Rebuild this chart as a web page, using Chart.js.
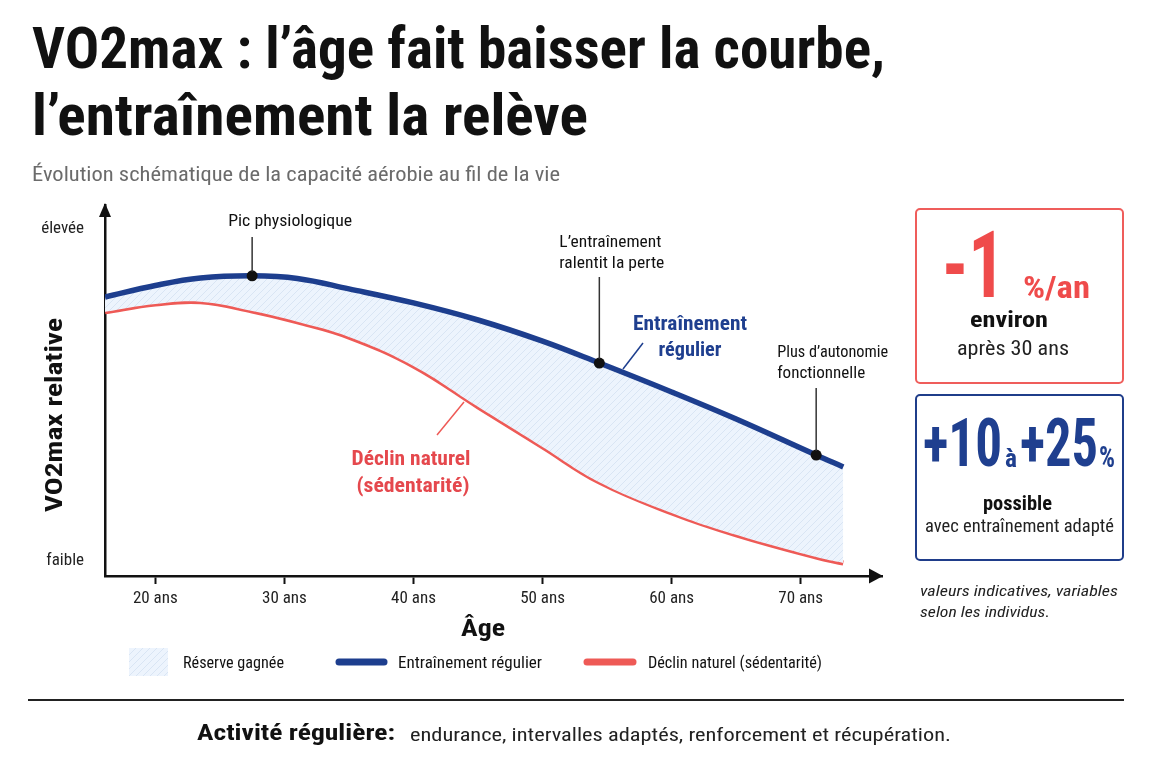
<!DOCTYPE html>
<html><head><meta charset="utf-8">
<script src="https://cdn.jsdelivr.net/npm/chart.js@4.4.1/dist/chart.umd.min.js"></script>
<style>
html,body{margin:0;padding:0;background:#fff;}
#wrap{position:relative;width:1152px;height:768px;overflow:hidden;background:#fff;}
#c{position:absolute;left:0;top:0;}
.t{position:absolute;white-space:nowrap;line-height:1;transform-origin:left top;font-family:'Liberation Sans Narrow','Roboto Condensed','DejaVu Sans Condensed',Roboto,sans-serif;}
.box{position:absolute;box-sizing:border-box;border-radius:5px;}
</style></head><body>
<div id="wrap"><canvas id="c" width="1152" height="768"></canvas>
<div class="box" style="left:915px;top:208px;width:209px;height:176px;border:2px solid #ef5d5b"></div>
<div class="box" style="left:915px;top:394px;width:209px;height:167px;border:2px solid #1f3d8a"></div>
<div style="position:absolute;left:28px;top:699px;width:1096px;height:2px;background:#222"></div>
</div>
<script>
const FONT = "'Liberation Sans Narrow','Roboto Condensed','DejaVu Sans Condensed',Roboto,sans-serif";

// ---- data ----
const ages = [16.1, 20, 23.5, 27.5, 31, 35, 40, 45, 50, 54.4, 60, 65, 71.2, 73.3];
const trainedValues = [75.2, 78.3, 80.3, 80.9, 80.2, 77.4, 73.6, 69.0, 63.3, 57.4, 49.6, 42.3, 32.6, 29.4];
const sedentaryValues = [71.2, 73.3, 73.9, 71.4, 68.5, 64.4, 56.6, 45.6, 34.8, 25.3, 17.0, 11.1, 5.1, 3.5];
const xTickAges = [20, 30, 40, 50, 60, 70];
const yTickValues = [4, 93.5];
const yTickLabels = ['faible', 'élevée'];
const seriesNames = ['Entraînement régulier', 'Déclin naturel (sédentarité)'];
const reserveName = 'Réserve gagnée';
const dotAges = [27.5, 54.4, 71.2];
const dotNotes = [['Pic physiologique'], ['L’entraînement', 'ralentit la perte'], ['Plus d’autonomie', 'fonctionnelle']];
const xTitle = 'Âge';
const yTitle = 'VO2max relative';

const NAVY = '#1d3e8e', RED = '#ee5a56', NAVY_T = '#1f3f8f', RED_T = '#e5484d';
const wrap = document.getElementById('wrap');

function T(text, o) {
  const el = document.createElement('div');
  el.className = 't';
  el.textContent = text;
  el.style.fontSize = o.size + 'px';
  el.style.fontWeight = o.bold ? '700' : '400';
  el.style.fontStyle = o.italic ? 'italic' : 'normal';
  el.style.color = o.color || '#111';
  wrap.appendChild(el);
  const w = el.getBoundingClientRect().width;
  const s = o.w ? o.w / w : 1;
  const W = w * s;
  const left = o.align === 'center' ? o.x - W / 2 : (o.align === 'right' ? o.x - W : o.x);
  el.style.left = left + 'px';
  el.style.top = (o.y - 0.847 * o.size) + 'px';
  el.style.transform = 'scaleX(' + s + ')';
}

// titles
T('VO2max : l’âge fait baisser la courbe,', {x: 32, y: 68, size: 58, bold: true, w: 853});
T('l’entraînement la relève', {x: 32, y: 135, size: 58, bold: true, w: 556});
T('Évolution schématique de la capacité aérobie au fil de la vie', {x: 32, y: 182, size: 21, color: '#6b6b6b', w: 528});
// red box
T('-1', {x: 942, y: 298, size: 92, bold: true, color: '#ef4b4b', w: 63});
T('%/an', {x: 1023, y: 298, size: 32, bold: true, color: '#ef4b4b', w: 67});
T('environ', {x: 1009, y: 328, size: 22, bold: true, align: 'center', w: 78});
T('après 30 ans', {x: 1013, y: 355, size: 20, color: '#222', align: 'center', w: 112});
// blue box
T('+10', {x: 923, y: 467, size: 66, bold: true, color: NAVY_T, w: 79});
T('à', {x: 1005, y: 467, size: 25, bold: true, color: NAVY_T, w: 12});
T('+25', {x: 1020, y: 467, size: 66, bold: true, color: NAVY_T, w: 78});
T('%', {x: 1099, y: 467, size: 30, bold: true, color: NAVY_T, w: 16});
T('possible', {x: 1017, y: 511, size: 21, bold: true, align: 'center', w: 69});
T('avec entraînement adapté', {x: 1019, y: 532, size: 19, color: '#222', align: 'center', w: 189});
T('valeurs indicatives, variables', {x: 920, y: 597, size: 15, italic: true, color: '#222', w: 198});
T('selon les individus.', {x: 920, y: 618, size: 15, italic: true, color: '#222', w: 130});
// footer
T('Activité régulière:', {x: 197, y: 741, size: 22, bold: true, w: 198});
T('endurance,  intervalles adaptés,  renforcement et récupération.', {x: 410, y: 741, size: 19, color: '#222', w: 541});

// hatch pattern
function makePattern() {
  const pc = document.createElement('canvas');
  pc.width = 7; pc.height = 7;
  const g = pc.getContext('2d');
  g.fillStyle = '#edf4fd'; g.fillRect(0, 0, 7, 7);
  g.strokeStyle = '#d9e5f4'; g.lineWidth = 1;
  g.beginPath();
  g.moveTo(-1, 8); g.lineTo(8, -1);
  g.moveTo(-1, 1); g.lineTo(1, -1);
  g.moveTo(6, 8); g.lineTo(8, 6);
  g.stroke();
  return g.createPattern(pc, 'repeat');
}
const hatch = makePattern();

function fitText(ctx, text, x, y, font, color, w, align) {
  ctx.save();
  ctx.font = font;
  ctx.fillStyle = color;
  ctx.textBaseline = 'alphabetic';
  ctx.textAlign = 'left';
  const m = ctx.measureText(text).width;
  const s = w ? w / m : 1;
  const W = m * s;
  const left = align === 'center' ? x - W / 2 : (align === 'right' ? x - W : x);
  ctx.translate(left, y);
  ctx.scale(s, 1);
  ctx.fillText(text, 0, 0);
  ctx.restore();
}
function line(ctx, x1, y1, x2, y2, color, w, cap) {
  ctx.save();
  ctx.strokeStyle = color; ctx.lineWidth = w; ctx.lineCap = cap || 'butt';
  ctx.beginPath(); ctx.moveTo(x1, y1); ctx.lineTo(x2, y2); ctx.stroke();
  ctx.restore();
}

const decor = {
  id: 'decor',
  afterDraw(chart) {
    const ctx = chart.ctx;
    const a = chart.chartArea;
    // arrowheads
    ctx.save();
    ctx.fillStyle = '#111';
    ctx.beginPath();
    ctx.moveTo(a.left, a.top - 2); ctx.lineTo(a.left - 6, a.top + 12); ctx.lineTo(a.left + 6, a.top + 12); ctx.closePath(); ctx.fill();
    ctx.beginPath();
    ctx.moveTo(a.right + 1, a.bottom); ctx.lineTo(a.right - 13, a.bottom - 7.5); ctx.lineTo(a.right - 13, a.bottom + 7.5); ctx.closePath(); ctx.fill();
    ctx.restore();

    // annotations on the dots
    const meta = chart.getDatasetMeta(0);
    const f16 = '400 17px ' + FONT;
    const P = dotAges.map(d => meta.data[ages.indexOf(d)]);
    line(ctx, P[0].x, 237, P[0].x, P[0].y - 4, '#333', 1.5);
    fitText(ctx, dotNotes[0][0], P[0].x + 38, 226, f16, '#111', 124, 'center');
    line(ctx, P[1].x, 277, P[1].x, P[1].y - 4, '#333', 1.5);
    fitText(ctx, dotNotes[1][0], P[1].x - 40, 247, f16, '#111', 102);
    fitText(ctx, dotNotes[1][1], P[1].x - 40, 268, f16, '#111', 105);
    line(ctx, P[2].x, 388, P[2].x, P[2].y - 4, '#333', 1.5);
    fitText(ctx, dotNotes[2][0], P[2].x - 39, 357, f16, '#111', 111);
    fitText(ctx, dotNotes[2][1], P[2].x - 39, 378, f16, '#111', 88);

    // series labels
    const fb = '700 21px ' + FONT;
    line(ctx, 623, 369, 643, 343, NAVY, 1.5);
    fitText(ctx, 'Entraînement', 690, 330, fb, NAVY_T, 114, 'center');
    fitText(ctx, 'régulier', 690, 356, fb, NAVY_T, 63, 'center');
    line(ctx, 437, 435, 464, 402, RED, 1.5);
    fitText(ctx, 'Déclin naturel', 411, 465, fb, RED_T, 119, 'center');
    fitText(ctx, '(sédentarité)', 413, 492, fb, RED_T, 113, 'center');

    // axis titles
    const ft = '700 23px ' + FONT;
    fitText(ctx, xTitle, 483, 636, ft, '#111', 44, 'center');
    ctx.save();
    ctx.translate(62, 415);
    ctx.rotate(-Math.PI / 2);
    fitText(ctx, yTitle, 0, 0, ft, '#111', 194, 'center');
    ctx.restore();

    // legend
    const fl = '400 17px ' + FONT;
    ctx.save(); ctx.fillStyle = hatch; ctx.fillRect(129, 648, 39, 28); ctx.restore();
    fitText(ctx, reserveName, 183, 668, fl, '#111', 101);
    line(ctx, 339, 662, 384, 662, NAVY, 7, 'round');
    fitText(ctx, seriesNames[0], 398, 668, fl, '#111', 144);
    line(ctx, 587, 662, 633, 662, RED, 7, 'round');
    fitText(ctx, seriesNames[1], 648, 668, fl, '#111', 174);
  }
};

new Chart(document.getElementById('c'), {
  type: 'line',
  data: {
    datasets: [
      {
        label: seriesNames[0],
        data: ages.map((a, i) => ({x: a, y: trainedValues[i]})),
        borderColor: NAVY, borderWidth: 5.5,
        fill: '+1', backgroundColor: hatch,
        pointRadius: ages.map(a => dotAges.includes(a) ? 5.5 : 0),
        pointBackgroundColor: '#111', pointBorderWidth: 0,
        tension: 0.4
      },
      {
        label: seriesNames[1],
        data: ages.map((a, i) => ({x: a, y: sedentaryValues[i]})),
        borderColor: RED, borderWidth: 5,
        fill: false, pointRadius: 0,
        tension: 0.4
      }
    ]
  },
  options: {
    responsive: false, animation: false, devicePixelRatio: 1,
    layout: {padding: {left: 0, top: 205, right: 270, bottom: 132}},
    plugins: {legend: {display: false}, tooltip: {enabled: false}},
    scales: {
      x: {
        type: 'linear', min: 16.1, max: 76.3,
        afterFit: s => { s.height = 60; },
        afterBuildTicks: s => { s.ticks = xTickAges.map(v => ({value: v})); },
        grid: {drawOnChartArea: false, drawTicks: true, tickLength: 8, tickWidth: 2, tickColor: '#111'},
        border: {display: true, color: '#111', width: 2.5},
        ticks: {callback: v => v + ' ans', font: {family: FONT, size: 17}, color: '#222', padding: 5, maxRotation: 0, autoSkip: false}
      },
      y: {
        min: 0, max: 100,
        afterFit: s => { s.width = 105; },
        afterBuildTicks: s => { s.ticks = yTickValues.map(v => ({value: v})); },
        grid: {display: false, drawTicks: false},
        border: {display: true, color: '#111', width: 2.5},
        ticks: {callback: v => { const i = yTickValues.indexOf(v); return i >= 0 ? yTickLabels[i] : ''; }, font: {family: FONT, size: 17}, color: '#222', padding: 21}
      }
    }
  },
  plugins: [decor]
});
</script>
</body></html>
